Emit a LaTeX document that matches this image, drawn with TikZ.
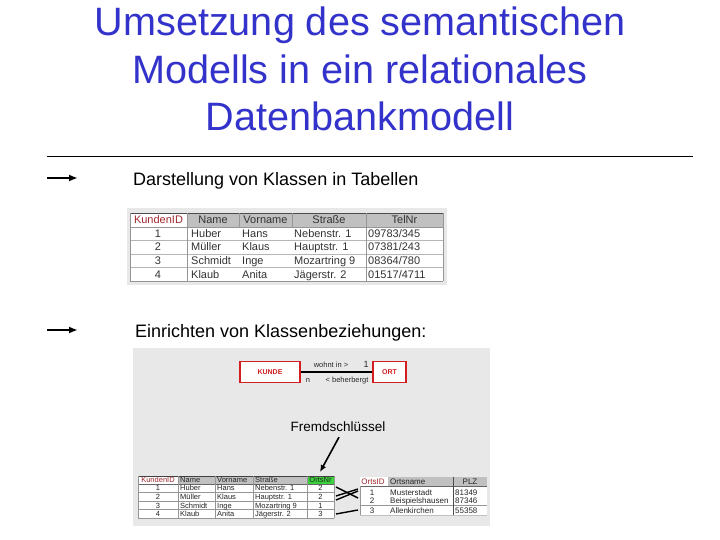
\documentclass[tikz,border=0pt]{standalone}
\usepackage{fontspec}
\setmainfont{Liberation Sans}
\usetikzlibrary{arrows.meta}
\definecolor{titleblue}{RGB}{51,51,204}
\definecolor{imgbg}{RGB}{232,232,232}
\definecolor{hdrgrey}{RGB}{192,192,192}
\definecolor{keyred}{RGB}{160,40,45}
\definecolor{erred}{RGB}{210,30,30}
\definecolor{fkgreen}{RGB}{60,210,60}
\definecolor{gridgrey}{RGB}{150,150,150}
\tikzset{
  titletext/.style={font=\fontsize{39.6}{46}\selectfont, text=titleblue, anchor=base, inner sep=0pt},
  subhead/.style={font=\fontsize{18}{22}\selectfont, anchor=base west, inner sep=0pt},
  bullet/.style={line width=2pt, -{Latex[length=9pt,width=7pt]}},
  ta/.style={font=\fontsize{11}{11}\selectfont, inner sep=0pt, anchor=base, text=black!80},
  tal/.style={ta, anchor=base west},
  tb/.style={font=\fontsize{7.5}{7.5}\selectfont, inner sep=0pt, anchor=base, text=black!85},
  tbl/.style={tb, anchor=base west},
  tc/.style={font=\fontsize{8}{8}\selectfont, inner sep=0pt, anchor=base, text=black!85},
  tcl/.style={tc, anchor=base west},
  entity/.style={draw=erred, line width=1.2pt, fill=white, text=erred, font=\fontsize{7}{7}\selectfont\bfseries, minimum height=21pt, inner sep=0pt},
  erlabel/.style={font=\fontsize{7.5}{7.5}\selectfont, inner sep=0pt, text=black!85},
  link/.style={line width=1.4pt},
}
\begin{document}
\begin{tikzpicture}[x=1pt,y=-1pt]
\useasboundingbox (0,0) rectangle (720,540);
\fill[white] (0,0) rectangle (720,540);

% Title
\node[titletext] (t1) at (360,36) {Umsetzung des semantischen};
\node[titletext] (t2) at (360,83.5) {Modells in ein relationales};
\node[titletext] (t3) at (360,131) {Datenbankmodell};

% Rule
\coordinate (ruleL) at (47,156);
\coordinate (ruleR) at (693,156);
\draw[line width=0.8pt] (ruleL) -- (ruleR);

% Bullet arrows and headings
\coordinate (a1s) at (47,178); \coordinate (a1e) at (78,178);
\draw[bullet] (a1s) -- (a1e);
\node[subhead] (h1) at (133,186) {Darstellung von Klassen in Tabellen};
\coordinate (a2s) at (47,330); \coordinate (a2e) at (78,330);
\draw[bullet] (a2s) -- (a2e);
\node[subhead] (h2) at (135,337) {Einrichten von Klassenbeziehungen:};

% ---------- Table 1 ----------
\fill[imgbg] (127,208) rectangle (447,285);
\fill[white] (130,213) rectangle (443,281);
\fill[hdrgrey] (187,213) rectangle (443,227);
\draw[gridgrey, line width=0.6pt] (130,227) -- (443,227);
\foreach \yy in {240,254,267} \draw[gridgrey!70, line width=0.5pt] (130,\yy) -- (443,\yy);
\draw[gridgrey, line width=0.6pt] (130,281) -- (443,281);
\draw[black!70, line width=0.7pt] (130,213) -- (443,213);
\foreach \xx in {130,187,366,443} \draw[gridgrey, line width=0.5pt] (\xx,213) -- (\xx,281);
\foreach \xx in {239,292} \draw[gridgrey, line width=0.5pt] (\xx,213) -- (\xx,227);
\node[ta, text=keyred] (k1h1) at (158.5,224) {KundenID};
\node[ta] (k1h2) at (213,224) {Name};
\node[ta] (k1h3) at (265.5,224) {Vorname};
\node[ta] (k1h4) at (329,224) {Straße};
\node[ta] (k1h5) at (404.5,224) {TelNr};
\node[ta] at (158,237.5) {1};
\node[tal] at (191,237.5) {Huber};
\node[tal] at (242,237.5) {Hans};
\node[tal] at (294,237.5) {Nebenstr. 1};
\node[tal] at (368,237.5) {09783/345};
\node[ta] at (158,251) {2};
\node[tal] at (191,251) {Müller};
\node[tal] at (242,251) {Klaus};
\node[tal] at (294,251) {Hauptstr. 1};
\node[tal] at (368,251) {07381/243};
\node[ta] at (158,264.5) {3};
\node[tal] at (191,264.5) {Schmidt};
\node[tal] at (242,264.5) {Inge};
\node[tal] at (294,264.5) {Mozartring 9};
\node[tal] at (368,264.5) {08364/780};
\node[ta] at (158,278) {4};
\node[tal] at (191,278) {Klaub};
\node[tal] at (242,278) {Anita};
\node[tal] at (294,278) {Jägerstr. 2};
\node[tal] at (368,278) {01517/4711};

% ---------- Image 2 ----------
\fill[imgbg] (133,348) rectangle (490,526);

% ER part
\node[entity, minimum width=60pt] (kunde) at (270,372) {KUNDE};
\node[entity, minimum width=33pt] (ort) at (389.5,372) {ORT};
\draw[line width=1.6pt] (kunde) -- (ort);
\node[erlabel] (rel1) at (331,365) {wohnt in >};
\node[erlabel, font=\fontsize{9}{9}\selectfont] (card1) at (366,364) {1};
\node[erlabel] (cardn) at (308,380.5) {n};
\node[erlabel] (rel2) at (347,380.5) {< beherbergt};

% Foreign key label and arrow
\node[font=\fontsize{13.5}{14}\selectfont, inner sep=0pt] (fk) at (338,427) {Fremdschlüssel};
\coordinate (fktip) at (320,472);
\draw[line width=1.6pt, -{Latex[length=7pt,width=6pt]}] ([xshift=1pt,yshift=-5pt]fk.south) -- (fktip);

% KUNDE table
\fill[white] (138,476) rectangle (334,518);
\fill[hdrgrey] (178,476) rectangle (307,484);
\fill[fkgreen] (307,476) rectangle (334,484);
\draw[black!75, line width=0.8pt] (138,476) -- (334,476);
\draw[black!60, line width=0.6pt] (138,484) -- (334,484);
\foreach \yy in {492.5,501,509.5} \draw[gridgrey, line width=0.5pt] (138,\yy) -- (334,\yy);
\draw[gridgrey, line width=0.6pt] (138,518) -- (334,518);
\foreach \xx in {138,178,215,253,307,334} \draw[gridgrey, line width=0.5pt] (\xx,476) -- (\xx,518);
\node[tb, text=keyred] at (158,482) {KundenID};
\node[tbl] at (180,482) {Name};
\node[tbl] at (217,482) {Vorname};
\node[tbl] at (255,482) {Straße};
\node[tb] at (320.5,482) {OrtsNr};
\node[tb] at (158,490.7) {1};
\node[tbl] at (180,490.7) {Huber};
\node[tbl] at (217,490.7) {Hans};
\node[tbl] at (255,490.7) {Nebenstr. 1};
\node[tb] at (320.5,490.7) {2};
\node[tb] at (158,499.4) {2};
\node[tbl] at (180,499.4) {Müller};
\node[tbl] at (217,499.4) {Klaus};
\node[tbl] at (255,499.4) {Hauptstr. 1};
\node[tb] at (320.5,499.4) {2};
\node[tb] at (158,508) {3};
\node[tbl] at (180,508) {Schmidt};
\node[tbl] at (217,508) {Inge};
\node[tbl] at (255,508) {Mozartring 9};
\node[tb] at (320.5,508) {1};
\node[tb] at (158,516.5) {4};
\node[tbl] at (180,516.5) {Klaub};
\node[tbl] at (217,516.5) {Anita};
\node[tbl] at (255,516.5) {Jägerstr. 2};
\node[tb] at (320.5,516.5) {3};

% ORT table
\fill[white] (360,477) rectangle (487,515);
\fill[hdrgrey] (388,477) rectangle (487,486);
\draw[black!60, line width=0.6pt] (360,486) -- (487,486);
\draw[gridgrey, line width=0.5pt] (360,505) -- (487,505);
\draw[gridgrey!60, line width=0.5pt] (360,515) -- (487,515);
\draw[gridgrey, line width=0.5pt] (360,486) -- (360,515);
\draw[black!70, line width=0.7pt] (453,477) -- (453,515);
\node[tc, text=keyred] at (373,484.5) {OrtsID};
\node[tcl] at (390,484.5) {Ortsname};
\node[tc] at (470,484.5) {PLZ};
\node[tc] at (372,495) {1};
\node[tcl] at (390,495) {Musterstadt};
\node[tcl] at (455,495) {81349};
\node[tc] at (372,503) {2};
\node[tcl] at (390,503) {Beispielshausen};
\node[tcl] at (455,503) {87346};
\node[tc] at (372,513) {3};
\node[tcl] at (390,513) {Allenkirchen};
\node[tcl] at (455,513) {55358};

% Connectors between tables
\coordinate (kr1) at (336,487);  \coordinate (or2) at (358,498);
\coordinate (kr2) at (336,496);  \coordinate (or1a) at (358,489);
\coordinate (kr3) at (336,500);  \coordinate (or1b) at (358,491);
\coordinate (kr4) at (336,514);  \coordinate (or3) at (358,510);
\draw[link] (kr1) -- (or2);
\draw[link] (kr2) -- (or1a);
\draw[link] (kr3) -- (or1b);
\draw[link] (kr4) -- (or3);
\end{tikzpicture}
\end{document}
